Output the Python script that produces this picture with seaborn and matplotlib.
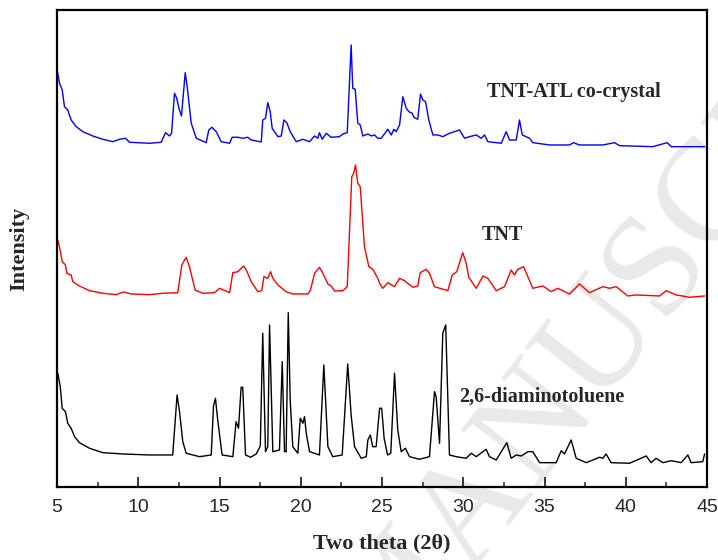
import numpy as np
import pandas as pd
import matplotlib
matplotlib.use('Agg')
import matplotlib.pyplot as plt
import seaborn as sns

# XRD patterns (stacked, arbitrary intensity units)
cocrystal_2theta = [5.03, 5.15, 5.32, 5.46, 5.66, 5.87, 6.18, 6.59, 7.20, 7.82, 8.43, 8.85, 9.22, 9.46,
                    10.69, 11.41, 11.68, 11.92, 12.05, 12.23, 12.37, 12.50, 12.66, 12.89, 13.01, 13.26,
                    13.57, 14.18, 14.34, 14.53, 14.80, 15.10, 15.62, 15.78, 16.13, 16.43, 16.74, 16.95,
                    17.57, 17.66, 17.83, 17.97, 18.12, 18.24, 18.59, 18.80, 18.96, 19.14, 19.35, 19.72,
                    20.13, 20.54, 20.85, 21.05, 21.15, 21.32, 21.57, 21.87, 22.38, 22.59, 22.86, 23.10,
                    23.20, 23.35, 23.51, 23.66, 23.82, 24.13, 24.34, 24.54, 24.74, 24.95, 25.36, 25.57,
                    25.73, 25.87, 26.08, 26.28, 26.49, 26.65, 26.86, 26.96, 27.20, 27.37, 27.51, 27.68,
                    27.88, 28.13, 28.43, 28.74, 29.15, 29.46, 29.77, 30.08, 30.38, 30.80, 31.10, 31.31,
                    31.51, 32.34, 32.64, 32.85, 33.26, 33.46, 33.63, 34.08, 34.28, 35.31, 36.54, 36.78,
                    37.15, 38.59, 39.31, 39.62, 41.66, 42.55, 42.80, 44.85]
cocrystal_int = [415.3, 404, 397, 380.3, 377, 367, 360.3, 355.3, 351, 347.7, 345.3, 347.7, 348.7, 344.7,
                 343.7, 344.7, 354.3, 351, 353.7, 393.7, 388.7, 378.7, 371, 414.3, 400.3, 363.7,
                 348.7, 344.3, 357, 359.7, 355.3, 345.3, 343.7, 349.7, 349.7, 348.7, 349.7, 347,
                 345, 367, 368.7, 384.3, 375.3, 358.7, 350.3, 351, 367, 364.3, 355.3, 345.3,
                 347.7, 345.3, 351, 348.7, 354.3, 347.7, 353.7, 349.7, 350.3, 353, 354.3, 442,
                 398.7, 397.7, 363.7, 362, 351, 353, 351, 352, 348.7, 348.7, 357.7, 352,
                 357.7, 355.3, 362, 390.3, 378.7, 375.3, 373.7, 369.7, 367.7, 393, 387, 385.3,
                 367, 352, 352, 350.3, 353.7, 355.3, 357, 348.7, 350.3, 352, 348.7, 352,
                 345.3, 343.7, 355.3, 347, 347, 367, 352, 348.7, 344.3, 342, 342, 344.3,
                 342, 342, 344.3, 341.3, 340.3, 344.3, 340.3, 340.3]

tnt_2theta = [5.05, 5.15, 5.32, 5.52, 5.60, 5.87, 5.97, 6.38, 7.00, 7.82, 8.64, 9.09, 9.56, 10.69,
              11.51, 12.43, 12.68, 12.95, 13.15, 13.50, 13.97, 14.69, 15.00, 15.62, 15.82, 16.13,
              16.48, 16.65, 16.95, 17.36, 17.60, 17.73, 17.97, 18.14, 18.28, 18.59, 19.10, 19.51,
              20.44, 20.60, 20.85, 21.15, 21.36, 21.67, 21.87, 22.08, 22.59, 22.86, 23.14, 23.26,
              23.37, 23.51, 23.66, 23.92, 24.19, 24.43, 24.74, 24.85, 25.05, 25.36, 25.77, 26.08,
              26.38, 26.90, 27.20, 27.35, 27.72, 27.92, 28.23, 29.05, 29.32, 29.60, 29.97, 30.18,
              30.34, 30.80, 31.21, 31.51, 32.03, 32.54, 32.95, 33.15, 33.36, 33.71, 34.28, 34.90,
              35.41, 35.82, 36.54, 37.15, 37.77, 38.59, 39.00, 39.41, 40.13, 40.64, 42.08, 42.49,
              43.11, 43.92, 44.85]
tnt_int = [247, 240.3, 225.3, 222, 213.7, 212, 205.3, 201, 196.3, 193.7, 192.3, 195, 193, 192.3,
           193.7, 194.3, 222, 229.7, 220.3, 197, 193.7, 194.3, 198.7, 194.3, 214.3, 215.3,
           221, 217, 205.3, 195.3, 196.3, 210.3, 208.7, 215.3, 208.7, 202, 195.3, 193,
           193, 197, 213.7, 219.7, 213.7, 203, 201, 196, 196.3, 200.3, 310.3, 313.7,
           322, 303.7, 300.3, 240.3, 220.3, 217.7, 208.7, 203.7, 198.7, 204.3, 200.3, 208.7,
           206.3, 199.7, 201, 214.3, 217.7, 213.7, 200.3, 196.3, 212, 215.3, 234.3, 223.7,
           209.7, 198.7, 211, 208.7, 196.3, 200.3, 217, 212, 217.7, 220.3, 198.7, 201,
           195.3, 198.7, 193, 203, 194.3, 200.3, 198.7, 200.3, 191, 192, 191, 196.3,
           192, 189.7, 191]

dat_2theta = [5.05, 5.20, 5.32, 5.52, 5.66, 5.87, 6.08, 6.38, 7.00, 7.82, 9.05, 10.69, 12.12, 12.39,
              12.54, 12.74, 12.95, 13.77, 14.49, 14.63, 14.75, 14.89, 15.16, 15.82, 16.02, 16.17,
              16.33, 16.43, 16.60, 16.91, 17.26, 17.51, 17.66, 17.83, 17.97, 18.08, 18.28, 18.69,
              18.86, 19.00, 19.10, 19.23, 19.35, 19.51, 19.82, 19.97, 20.13, 20.23, 20.34, 20.54,
              21.15, 21.42, 21.67, 21.97, 22.55, 22.89, 23.10, 23.31, 23.72, 24.03, 24.13, 24.28,
              24.43, 24.64, 24.85, 24.98, 25.13, 25.34, 25.54, 25.77, 25.97, 26.18, 26.44, 26.69,
              27.30, 27.92, 28.23, 28.33, 28.54, 28.74, 28.92, 29.15, 29.56, 30.18, 30.49, 30.80,
              31.41, 31.61, 32.03, 32.68, 32.95, 33.26, 33.57, 33.98, 34.28, 34.70, 35.72, 36.03,
              36.23, 36.64, 36.95, 37.57, 38.38, 38.59, 38.79, 39.10, 40.23, 41.26, 41.56, 41.87,
              42.28, 42.80, 43.41, 43.82, 44.02, 44.74, 44.85]
dat_int = [113.7, 100.3, 78.7, 75.3, 63.7, 58.7, 50.3, 44.3, 38.7, 34.3, 33, 32, 32, 92,
           75.3, 45.3, 33.7, 30.3, 32, 81, 88.7, 67, 32, 30.3, 65.3, 58.7,
           99.7, 99.7, 32, 29.7, 33, 41, 153.7, 35.3, 40.3, 162, 35.3, 37,
           125.3, 35.3, 35.3, 174.3, 87, 40.3, 33.7, 68.7, 63.7, 70.3, 53.7, 35.3,
           32, 122, 40.3, 30.3, 32, 123, 72, 40.3, 28.7, 30.3, 47, 52,
           40.3, 40.3, 78.7, 78.7, 48.7, 32, 33.7, 113.7, 57, 35.3, 38.7, 30.3,
           27.7, 30.3, 95.3, 90.3, 43.7, 153.7, 162, 32, 30.3, 28.7, 33.7, 30.3,
           37.7, 30.3, 27, 44.3, 28.7, 32, 31, 35.3, 35.3, 24.3, 24.3, 36.3,
           33, 47, 28.7, 24.3, 29.7, 28.7, 33, 24.3, 23.7, 31, 24.3, 28.7,
           24.3, 26.3, 24.3, 32, 24.3, 25.3, 33]

sns.set_style('ticks')

fig = plt.figure(figsize=(7.18, 5.6), dpi=100)
ax = fig.add_axes([0.0794, 0.1304, 0.9053, 0.8518])
ax.patch.set_alpha(0)

# faint watermark behind the patterns
fig.text(0.568, -0.065, 'ACCEPTED MANUSCRIPT', rotation=52, rotation_mode='anchor',
         ha='center', va='center', fontsize=105, color='#e9e9e9',
         family='Liberation Serif', zorder=-1)

traces = [
    (cocrystal_2theta, cocrystal_int, '#0000ff'),
    (tnt_2theta, tnt_int, '#ff0000'),
    (dat_2theta, dat_int, '#000000'),
]
for xs, ys, col in traces:
    df = pd.DataFrame({'2theta': xs, 'intensity': ys})
    sns.lineplot(data=df, x='2theta', y='intensity', ax=ax, color=col,
                 linewidth=1.0, sort=False, estimator=None)

bold_serif = dict(family='Liberation Serif', weight='bold')
ax.text(36.78, 395, 'TNT-ATL co-crystal', ha='center', va='center', fontsize=14.5, **bold_serif)
ax.text(32.42, 252, 'TNT', ha='center', va='center', fontsize=14.5, **bold_serif)
ax.text(34.80, 90, '2,6-diaminotoluene', ha='center', va='center', fontsize=14.5, **bold_serif)

ax.set_xlim(5, 45)
ax.set_ylim(0, 477)
ax.set_xticks(np.arange(5, 46, 5))
ax.set_xticks(np.arange(7.5, 45, 5), minor=True)
ax.set_yticks([])
ax.tick_params(axis='x', which='major', direction='in', length=7, width=1.3,
               pad=9, labelsize=14, top=False)
ax.tick_params(axis='x', which='minor', direction='in', length=3.5, width=1.1, top=False)
for lbl in ax.get_xticklabels():
    lbl.set_family('Liberation Sans')
for sp in ax.spines.values():
    sp.set_visible(True)
    sp.set_linewidth(1.6)
    sp.set_color('black')

ax.set_xlabel('Two theta (2θ)', fontsize=16, labelpad=12, **bold_serif)
ax.set_ylabel('Intensity', fontsize=16, labelpad=20, **bold_serif)

fig.savefig('out.png', dpi=100)
